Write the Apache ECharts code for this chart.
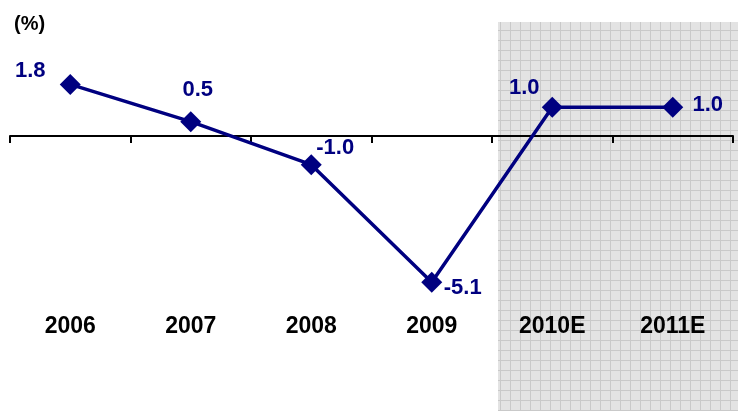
<!DOCTYPE html>
<html>
<head>
<meta charset="utf-8">
<script src="https://cdn.jsdelivr.net/npm/echarts@6/dist/echarts.min.js"></script>
<style>
  html, body { margin: 0; padding: 0; background: #ffffff; }
  #chart { width: 738px; height: 411px; }
</style>
</head>
<body>
<div id="chart"></div>
<script>
// Annual growth (%), actual and estimated years
const years = ['2006', '2007', '2008', '2009', '2010E', '2011E'];
const growth = [1.8, 0.5, -1.0, -5.1, 1.0, 1.0];
const unitLabel = '(%)';

// Where each value label sits relative to its marker (text centre minus marker centre)
const labelOffsets = [[-40, -13], [7, -32], [24, -17], [31, 6], [-28, -19], [35, -2]];

const FONT = '"Liberation Sans", Arial, Helvetica, sans-serif';
const NAVY = '#000080';

// Small tiled grid used to fill the estimate panel
function makeGridPattern() {
  const c = document.createElement('canvas');
  c.width = 10; c.height = 10;
  const g = c.getContext('2d');
  g.fillStyle = '#e3e3e3';
  g.fillRect(0, 0, 10, 10);
  g.fillStyle = '#c9c9c9';
  g.fillRect(0, 0, 10, 1);
  g.fillRect(0, 0, 1, 10);
  return c;
}

const chart = echarts.init(document.getElementById('chart'), null, { renderer: 'canvas' });

chart.setOption({
  animation: false,
  backgroundColor: '#ffffff',
  grid: { left: 10, right: 5, top: 50, bottom: 103 },
  graphic: [
    {
      type: 'rect',
      z: -10,
      silent: true,
      shape: { x: 498, y: 22, width: 240, height: 389 },
      style: { fill: { image: makeGridPattern(), repeat: 'repeat' } }
    },
    {
      type: 'text',
      left: 14,
      top: 14,
      style: { text: unitLabel, font: 'bold 20px ' + FONT, fill: '#000000' }
    }
  ],
  xAxis: [
    {
      type: 'category',
      data: years,
      boundaryGap: true,
      axisLine: { onZero: true, lineStyle: { color: '#000000', width: 2 } },
      axisTick: { show: true, length: 7, lineStyle: { color: '#000000', width: 2 } },
      axisLabel: { show: false },
      splitLine: { show: false }
    },
    {
      type: 'category',
      data: years,
      position: 'bottom',
      boundaryGap: true,
      axisLine: { show: false, onZero: false },
      axisTick: { show: false },
      axisLabel: {
        show: true,
        margin: 7,
        color: '#000000',
        fontFamily: FONT,
        fontWeight: 'bold',
        fontSize: 23
      },
      splitLine: { show: false }
    }
  ],
  yAxis: {
    type: 'value',
    min: -6,
    max: 3,
    show: false,
    splitLine: { show: false }
  },
  series: [
    {
      type: 'line',
      xAxisIndex: 0,
      data: growth.map((v, i) => ({
        value: v,
        label: { offset: labelOffsets[i] }
      })),
      lineStyle: { color: NAVY, width: 3.5 },
      itemStyle: { color: NAVY },
      symbol: 'diamond',
      symbolSize: 21,
      showAllSymbol: true,
      label: {
        show: true,
        position: 'inside',
        align: 'center',
        verticalAlign: 'middle',
        color: NAVY,
        fontFamily: FONT,
        fontWeight: 'bold',
        fontSize: 22,
        formatter: p => p.value.toFixed(1)
      },
      z: 5
    }
  ]
});
</script>
</body>
</html>
